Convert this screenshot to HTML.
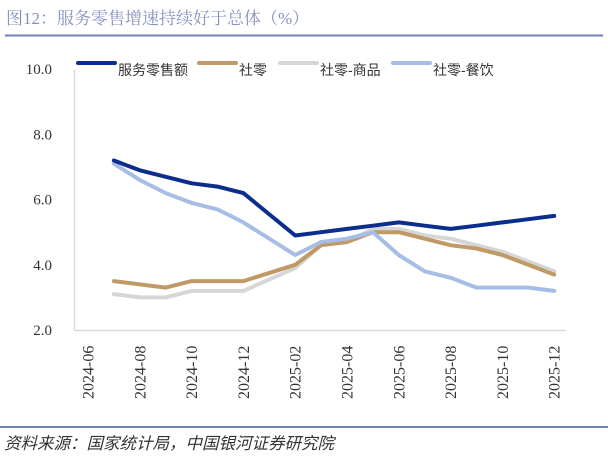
<!DOCTYPE html>
<html><head><meta charset="utf-8"><style>
body{margin:0;background:#fff;width:608px;height:464px;overflow:hidden}
svg{display:block}
</style></head><body>
<svg id="c" width="608" height="464" xmlns="http://www.w3.org/2000/svg">
<text x="6" y="24" font-family="Liberation Serif, 'Noto Serif CJK SC', serif" font-size="17" fill="#8592bd">图12：服务零售增速持续好于总体（%）</text>
<line x1="5" y1="35.5" x2="603" y2="35.5" stroke="#6f80b6" stroke-width="2"/>
<line x1="0" y1="427" x2="608" y2="427" stroke="#6f80b6" stroke-width="2"/>
<text x="4" y="449" font-family="Liberation Sans, 'Noto Sans CJK SC', sans-serif" font-size="16.5" font-style="italic" fill="#333">资料来源：国家统计局，中国银河证券研究院</text>
<g id="axes"></g><g id="series"></g><g id="legend"></g>
</svg>
<script>
const categories=["2024-06","2024-07","2024-08","2024-09","2024-10","2024-11","2024-12","2025-01","2025-02","2025-03","2025-04","2025-05","2025-06","2025-07","2025-08","2025-09","2025-10","2025-11","2025-12"];
const tickLabels=["2024-06","2024-08","2024-10","2024-12","2025-02","2025-04","2025-06","2025-08","2025-10","2025-12"];
const yTicks=[2,4,6,8,10];
const seriesNames=["服务零售额","社零","社零-商品","社零-餐饮"];
const serviceRetail=[null,7.2,6.9,6.7,6.5,6.4,6.2,null,4.9,5.0,5.1,5.2,5.3,5.2,5.1,5.2,5.3,5.4,5.5];
const totalRetail=[null,3.5,3.4,3.3,3.5,3.5,3.5,null,4.0,4.6,4.7,5.0,5.0,4.8,4.6,4.5,4.3,4.0,3.7];
const goodsRetail=[null,3.1,3.0,3.0,3.2,3.2,3.2,null,3.9,4.6,4.7,5.1,5.1,4.9,4.8,4.6,4.4,4.1,3.8];
const cateringRetail=[null,7.1,6.6,6.2,5.9,5.7,5.3,null,4.3,4.7,4.8,5.0,4.3,3.8,3.6,3.3,3.3,3.3,3.2];
const colors=["#0b2d8c","#bf9a67","#d6d6d6","#a6bde6"];
const NS="http://www.w3.org/2000/svg";
const x=i=>88+i*25.9;
const y=v=>330-(v-2)*32.6;
const ax=document.getElementById('axes'),se=document.getElementById('series'),lg=document.getElementById('legend');
function mk(tag,attrs,parent,text){const e=document.createElementNS(NS,tag);for(const k in attrs)e.setAttribute(k,attrs[k]);if(text!=null)e.textContent=text;parent.appendChild(e);return e;}
let e=mk('path',{d:'M74.5 70 V330.5 H566',fill:'none',stroke:'#d9d9d9','stroke-width':1.5},ax);


yTicks.forEach(v=>{const t=mk('text',{x:52,y:y(v)+5,'text-anchor':'end','font-family':'Liberation Serif, serif','font-size':15,fill:'#333'},ax,v.toFixed(1));

});
tickLabels.forEach(l=>{const i=categories.indexOf(l);const px=x(i)+5.5,py=399;const t=mk('text',{x:px,y:py,transform:`rotate(-90 ${px} ${py})`,'font-family':'Liberation Serif, serif','font-size':16,fill:'#333'},ax,l);

});
const all=[serviceRetail,totalRetail,goodsRetail,cateringRetail];
const order=[2,1,3,0];
order.forEach(s=>{const pts=[];all[s].forEach((v,i)=>{if(v!=null)pts.push(x(i).toFixed(1)+','+y(v).toFixed(1));});
const p=mk('polyline',{points:pts.join(' '),fill:'none',stroke:colors[s],'stroke-width':4,'stroke-linejoin':'round','stroke-linecap':'round'},se);

});
const lx=[77,198,279,392];
seriesNames.forEach((n,s)=>{const g=mk('g',{},lg);


mk('line',{x1:lx[s]+1,y1:63,x2:lx[s]+38,y2:63,stroke:colors[s],'stroke-width':4,'stroke-linecap':'round'},g);
mk('text',{x:lx[s]+41,y:75,'font-family':"Liberation Sans, 'Noto Sans CJK SC', sans-serif",'font-size':14,fill:'#333'},g,n);});
</script>
</body></html>
